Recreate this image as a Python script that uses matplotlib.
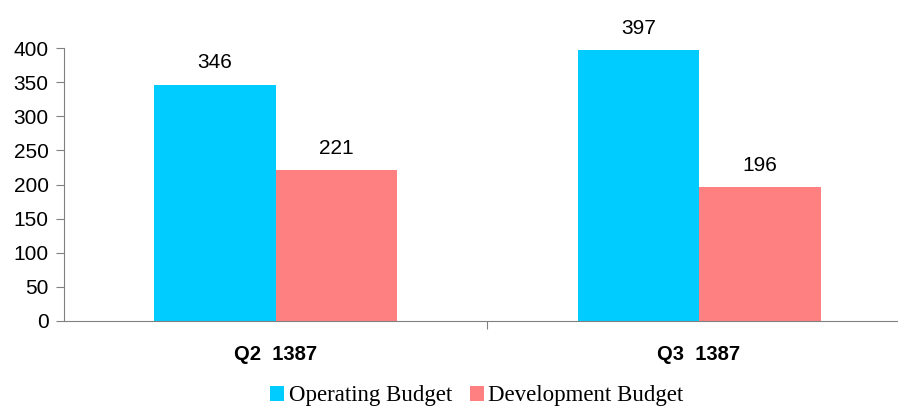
import matplotlib.pyplot as plt
import numpy as np

quarters = ["Q2  1387", "Q3  1387"]
operating = [346, 397]
development = [221, 196]

fig = plt.figure(figsize=(8.98, 4.08), dpi=100)
ax = fig.add_axes([64 / 898, 87 / 408, 834 / 898, 273 / 408])

x = np.arange(len(quarters))
w = 0.287
b1 = ax.bar(x - w / 2, operating, w, color="#00CCFF", label="Operating Budget")
b2 = ax.bar(x + w / 2, development, w, color="#FF8080", label="Development Budget")
for bars in (b1, b2):
    ax.bar_label(bars, padding=9, fontsize=15, family="Liberation Sans")

ax.set_xlim(-0.5, 1.47)
ax.set_ylim(0, 400)
ax.set_yticks(np.arange(0, 401, 50))
ax.set_xticks([0.5], [""])
ax.set_xticks(x, quarters, minor=True)
ax.tick_params(axis="x", which="minor", length=0, pad=17, labelsize=14.5)
ax.tick_params(axis="x", which="major", length=6, color="#808080")
ax.tick_params(axis="y", length=6, color="#808080", labelsize=15, pad=5)
for lab in ax.get_xticklabels(minor=True):
    lab.set_family("Liberation Sans")
    lab.set_fontweight("bold")
for lab in ax.get_yticklabels():
    lab.set_family("Liberation Sans")

for s in ("top", "right"):
    ax.spines[s].set_visible(False)
ax.spines["left"].set_color("#808080")
ax.spines["bottom"].set_color("#808080")

fig.legend(loc="center", bbox_to_anchor=(477 / 898, 1 - 396 / 408), ncol=2, frameon=False,
           prop={"family": "Liberation Serif", "size": 16.5}, handlelength=0.6, handleheight=0.6,
           handletextpad=0.2, columnspacing=0.8)

fig.savefig("out.png", dpi=100)
